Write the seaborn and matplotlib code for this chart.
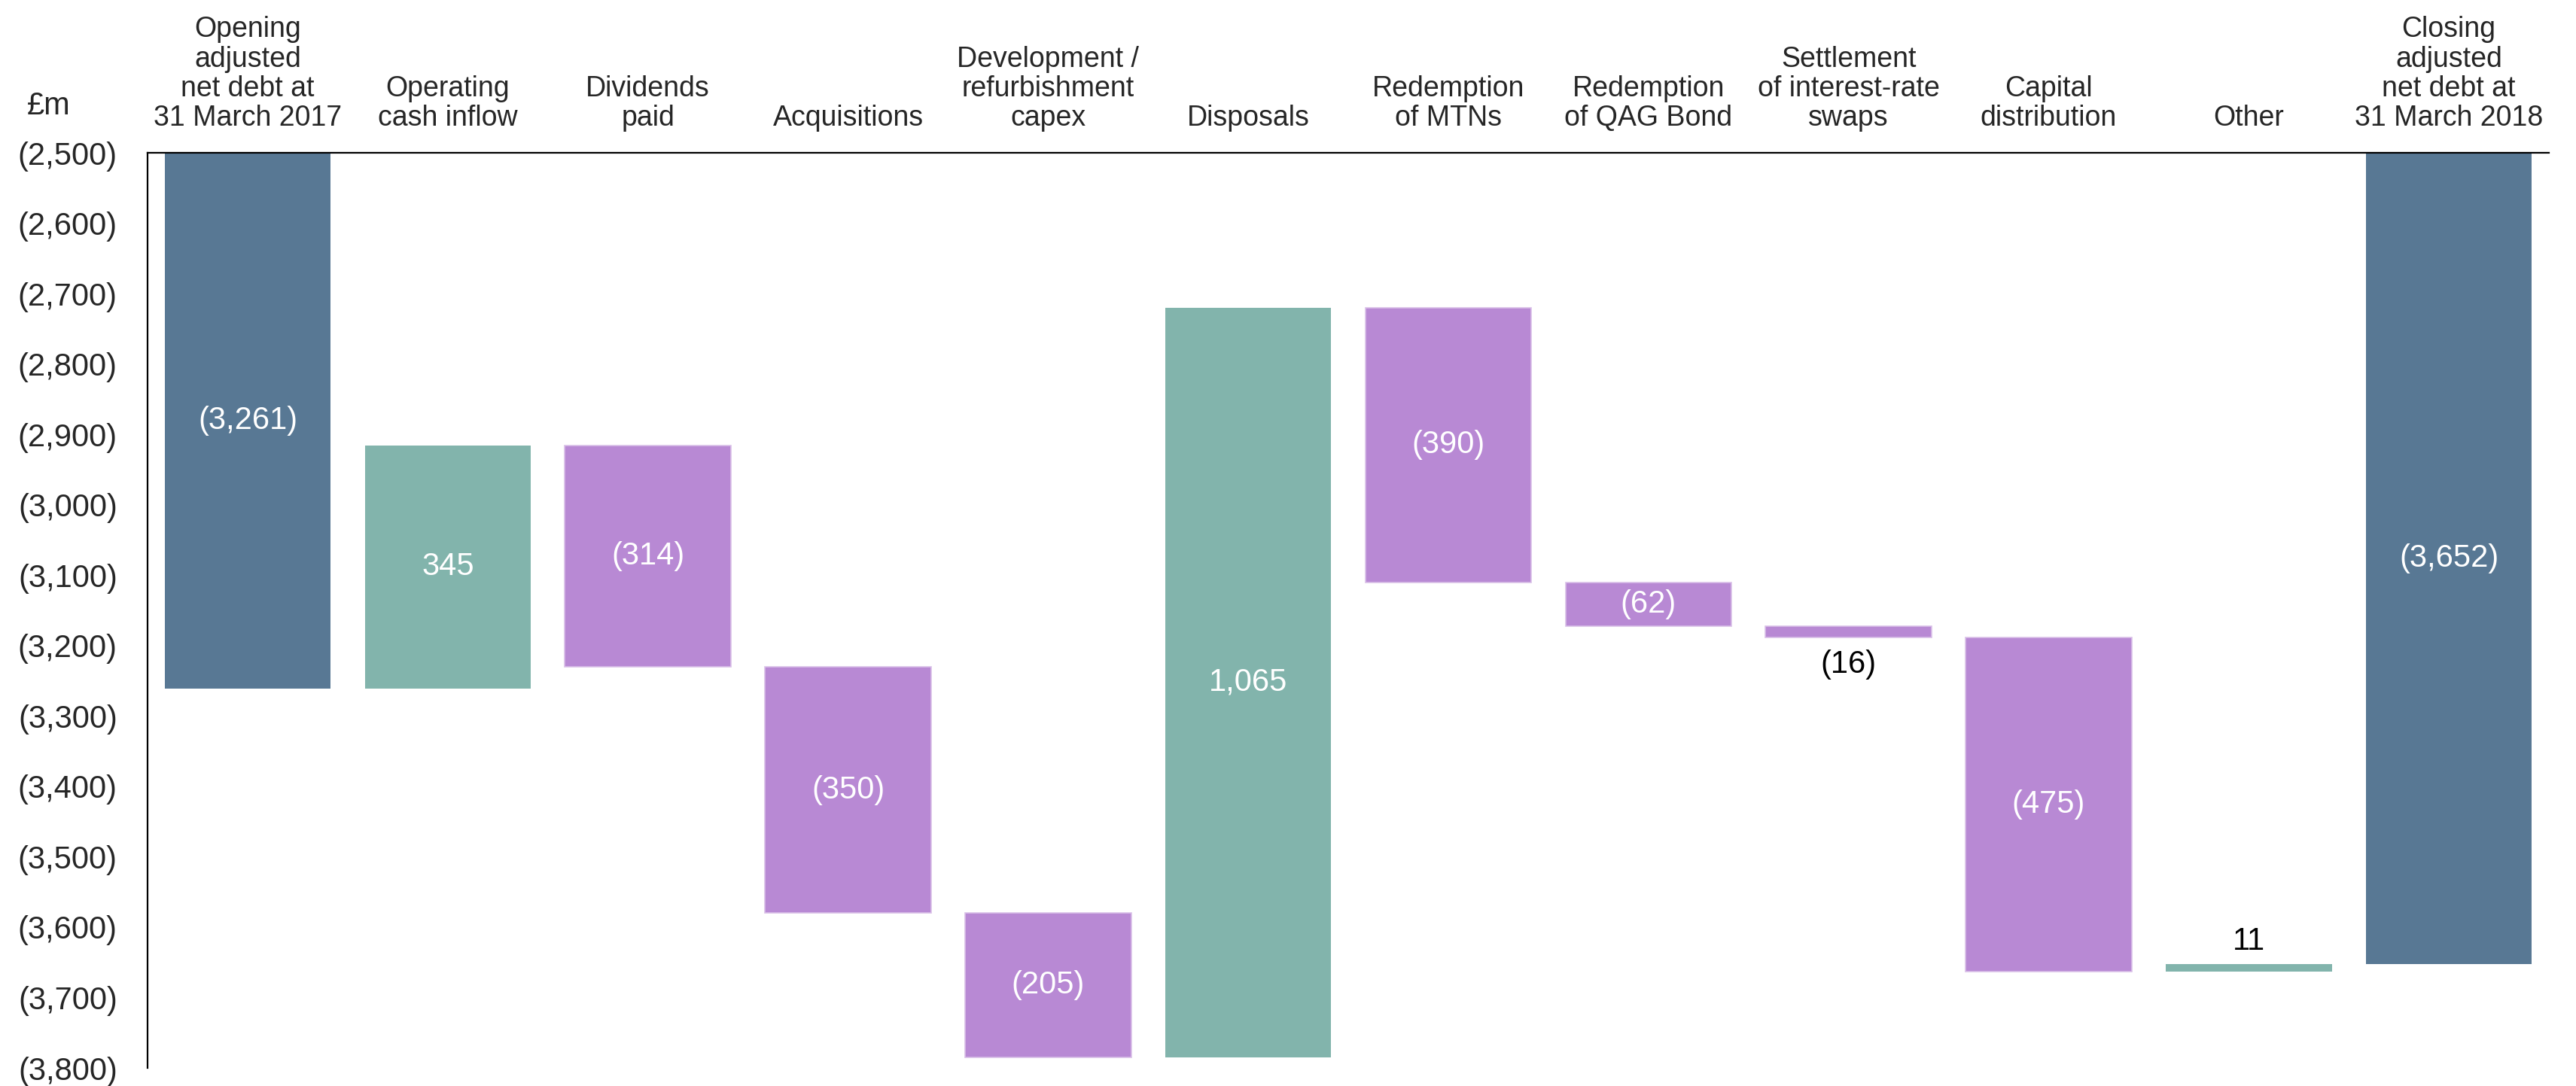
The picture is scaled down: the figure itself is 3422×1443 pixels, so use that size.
import matplotlib
matplotlib.use("Agg")
import matplotlib.pyplot as plt
import matplotlib.ticker as mticker
import pandas as pd
import seaborn as sns

# Net debt bridge, £m (negative = debt)
categories = [
    "Opening\nadjusted\nnet debt at\n31 March 2017",
    "Operating\ncash inflow",
    "Dividends\npaid",
    "Acquisitions",
    "Development /\nrefurbishment\ncapex",
    "Disposals",
    "Redemption\nof MTNs",
    "Redemption\nof QAG Bond",
    "Settlement\nof interest-rate\nswaps",
    "Capital\ndistribution",
    "Other",
    "Closing\nadjusted\nnet debt at\n31 March 2018",
]
amounts = [-3261, 345, -314, -350, -205, 1065, -390, -62, -16, -475, 11, -3652]
kinds = ["total", "up", "down", "down", "down", "up", "down", "down", "down",
         "down", "up", "total"]
y_ticks = list(range(-3800, -2499, 100))

kind_colors = {"total": "#587894", "up": "#82B4AC", "down": "#B889D4"}

Y_TOP, Y_BOTTOM = -2500, -3800

# Floating-bar geometry: each movement starts from the running level
bottoms, heights = [], []
level = 0
for amt, kind in zip(amounts, kinds):
    if kind == "total":
        bottoms.append(0)
        level = amt
    else:
        bottoms.append(level)
        level += amt
    heights.append(amt)

df = pd.DataFrame({"item": categories, "height": heights})

sns.set_style("white")
plt.rcParams["font.family"] = ["Liberation Sans", "DejaVu Sans"]

fig = plt.figure(figsize=(34.23, 14.43), dpi=100)
ax = fig.add_axes([0.0573, 0.01663, 0.9892 - 0.0573, 0.8593 - 0.01663])

sns.barplot(data=df, x="item", y="height", order=categories, bottom=bottoms,
            width=0.83, errorbar=None, color=kind_colors["down"], ax=ax)

for patch, kind in zip(ax.patches, kinds):
    patch.set_facecolor(kind_colors[kind])
    if kind == "down":
        patch.set_edgecolor("#D9C0E8")
        patch.set_linewidth(1.2)
    else:
        patch.set_edgecolor("none")

ax.set_xlim(-0.5, len(categories) - 0.5)
ax.set_ylim(Y_BOTTOM, Y_TOP)
ax.set_yticks(y_ticks)
ax.yaxis.set_major_formatter(
    mticker.FuncFormatter(lambda v, _: f"({abs(v):,.0f})" if v < 0 else f"{v:,.0f}"))
ax.tick_params(axis="y", length=0, pad=29, labelsize=30)

# Category labels sit above the plot
ax.xaxis.tick_top()
ax.set_xticks(range(len(categories)))
ax.set_xticklabels(categories, fontsize=27, linespacing=1.12)
ax.tick_params(axis="x", length=0, pad=20)
ax.set_xlabel("")
ax.set_ylabel("")

for side in ("right", "bottom"):
    ax.spines[side].set_visible(False)
for side in ("left", "top"):
    ax.spines[side].set_visible(True)
    ax.spines[side].set_color("black")
    ax.spines[side].set_linewidth(1.6)

# Value labels
def fmt(v):
    return f"({abs(v):,.0f})" if v < 0 else f"{v:,.0f}"

for i, (amt, kind, b) in enumerate(zip(amounts, kinds, bottoms)):
    lo, hi = sorted((b, b + amt))
    hi = min(hi, Y_TOP)
    if abs(amt) < 40:
        if amt < 0:
            ax.annotate(fmt(amt), xy=(i, lo), xytext=(0, -26), textcoords="offset points",
                        ha="center", va="center", fontsize=30, color="black")
        else:
            ax.annotate(fmt(amt), xy=(i, hi), xytext=(0, 21), textcoords="offset points",
                        ha="center", va="center", fontsize=30, color="black")
    else:
        ax.text(i, (lo + hi) / 2, fmt(amt), ha="center", va="center",
                fontsize=30, color="white")

fig.text(0.019, 0.902, "£m", fontsize=30, ha="center", va="center")

fig.savefig("out.png", dpi=100)
